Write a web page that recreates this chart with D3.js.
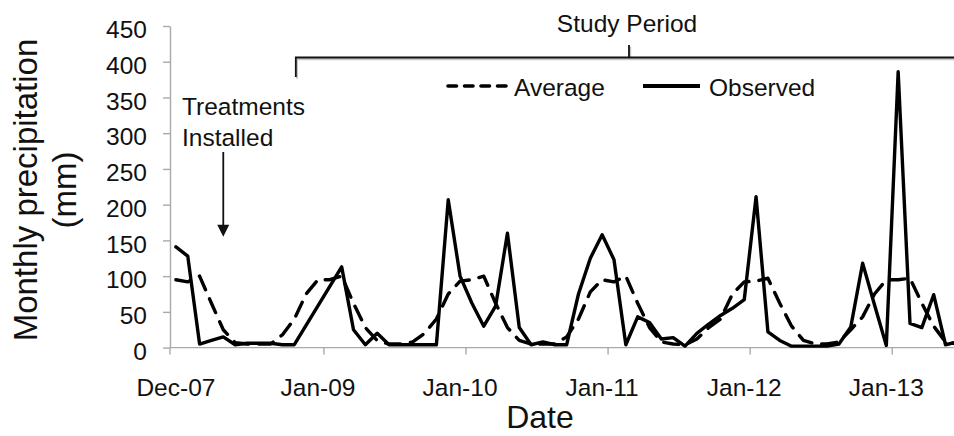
<!DOCTYPE html>
<html>
<head>
<meta charset="utf-8">
<script src="https://cdn.jsdelivr.net/npm/d3@7"></script>
<style>
  html, body { margin: 0; padding: 0; background: #fff; }
  svg { display: block; }
  text { font-family: "Liberation Sans", Arial, Helvetica, sans-serif; fill: #111; }
</style>
</head>
<body>
<svg id="chart" width="954" height="436"></svg>
<script>
// Monthly categories, Dec 2007 – Jun 2013
const months = [
  "Dec-07","Jan-08","Feb-08","Mar-08","Apr-08","May-08","Jun-08","Jul-08","Aug-08","Sep-08","Oct-08","Nov-08",
  "Dec-08","Jan-09","Feb-09","Mar-09","Apr-09","May-09","Jun-09","Jul-09","Aug-09","Sep-09","Oct-09","Nov-09",
  "Dec-09","Jan-10","Feb-10","Mar-10","Apr-10","May-10","Jun-10","Jul-10","Aug-10","Sep-10","Oct-10","Nov-10",
  "Dec-10","Jan-11","Feb-11","Mar-11","Apr-11","May-11","Jun-11","Jul-11","Aug-11","Sep-11","Oct-11","Nov-11",
  "Dec-11","Jan-12","Feb-12","Mar-12","Apr-12","May-12","Jun-12","Jul-12","Aug-12","Sep-12","Oct-12","Nov-12",
  "Dec-12","Jan-13","Feb-13","Mar-13","Apr-13","May-13","Jun-13"
];

// Long-term monthly average precipitation (mm)
const average = [
  95, 92, 100, 62, 25, 7, 5, 5, 5, 18, 40, 75,
  95, 95, 100, 62, 28, 10, 5, 5, 8, 20, 40, 75,
  93, 95, 100, 62, 28, 10, 5, 5, 5, 15, 40, 78,
  95, 92, 100, 62, 28, 8, 5, 4, 12, 28, 40, 75,
  92, 93, 97, 62, 30, 10, 5, 5, 8, 25, 43, 75,
  95, 95, 97, 62, 30, 8, 5
];

// Observed monthly precipitation (mm); null = no record
const observed = [
  141, 128, 5, 10, 15, 4, 6, 6, 6, 4, 4, null,
  null, null, 113, 25, 4, 20, 4, 4, 4, 4, 4, 207,
  100, 62, 30, 58, 160, 28, 4, 8, 4, 4, 75, 125,
  158, 123, 4, 43, 35, 12, 14, 2, 20, 33, 45, 55,
  67, 211, 22, 10, 2, 2, 2, 2, 5, 29, 118, 60,
  3, 386, 34, 28, 74, 4, 8
];

const yTicks = [0, 50, 100, 150, 200, 250, 300, 350, 400, 450];
const xTickMonths  = ["Dec-07", "Jan-09", "Jan-10", "Jan-11", "Jan-12", "Jan-13"];
const xLabelMonths = ["Dec-07", "Dec-08", "Dec-09", "Dec-10", "Dec-11", "Dec-12"];
const xLabelTexts  = ["Dec-07", "Jan-09", "Jan-10", "Jan-11", "Jan-12", "Jan-13"];

const treatmentMonth = "Apr-08";
const studyStartMonth = "Oct-08";

const svg = d3.select("#chart");

const plotLeft = 170, plotTop = 26, plotBottom = 347.6, monthW = 11.84;
const x = d3.scaleBand().domain(months).range([plotLeft, plotLeft + months.length * monthW]).padding(0);
const xc = m => x(m) + x.bandwidth() / 2;
const y = d3.scaleLinear().domain([0, 450]).range([plotBottom, plotTop]);

const axisGrey = "#a9a9a9";

// Y axis
const yAxis = svg.append("g").attr("transform", `translate(${plotLeft},0)`)
  .call(d3.axisLeft(y).tickValues(yTicks).tickSize(7).tickPadding(16).tickSizeOuter(0));
yAxis.attr("font-family", null).attr("font-size", null);
yAxis.select(".domain").attr("stroke", axisGrey).attr("stroke-width", 1.4);
yAxis.selectAll(".tick line").attr("stroke", axisGrey).attr("stroke-width", 1.4);
yAxis.selectAll(".tick text")
  .attr("font-size", 24.5).attr("fill", "#111")
  .attr("dy", "0.48em");

// X axis
const xAxisG = svg.append("g");
xAxisG.append("line")
  .attr("x1", plotLeft).attr("x2", x.range()[1])
  .attr("y1", plotBottom).attr("y2", plotBottom)
  .attr("stroke", axisGrey).attr("stroke-width", 1.4);
xAxisG.selectAll("line.tick").data(xTickMonths).join("line")
  .attr("class", "tick")
  .attr("x1", d => x(d)).attr("x2", d => x(d))
  .attr("y1", plotBottom).attr("y2", plotBottom + 7)
  .attr("stroke", axisGrey).attr("stroke-width", 1.4);
xAxisG.selectAll("text.tl").data(xLabelMonths).join("text")
  .attr("class", "tl")
  .attr("x", d => xc(d)).attr("y", 396)
  .attr("text-anchor", "middle").attr("font-size", 24.5)
  .text((d, i) => xLabelTexts[i]);

// Axis titles
svg.append("text")
  .attr("x", 540).attr("y", 428)
  .attr("text-anchor", "middle").attr("font-size", 32)
  .text("Date");
const yTitle = svg.append("text")
  .attr("transform", "translate(37,190) rotate(-90)")
  .attr("text-anchor", "middle").attr("font-size", 33);
yTitle.append("tspan").attr("x", 0).attr("y", 0).text("Monthly precipitation");
yTitle.append("tspan").attr("x", 0).attr("y", 39).text("(mm)");

// Series
const pts = arr => months.map((m, i) => ({ m, v: arr[i] })).filter(d => d.v !== null);
const line = d3.line().x(d => xc(d.m)).y(d => y(d.v));

svg.append("path")
  .datum(pts(average))
  .attr("d", line)
  .attr("fill", "none").attr("stroke", "#000").attr("stroke-width", 3.4)
  .attr("stroke-dasharray", "15,10").attr("stroke-linecap", "round").attr("stroke-linejoin", "round");

svg.append("path")
  .datum(pts(observed))
  .attr("d", line)
  .attr("fill", "none").attr("stroke", "#000").attr("stroke-width", 3.4)
  .attr("stroke-linejoin", "round").attr("stroke-linecap", "round");

// Legend
const lg = svg.append("g");
lg.append("line").attr("x1", 448).attr("x2", 506).attr("y1", 86).attr("y2", 86)
  .attr("stroke", "#000").attr("stroke-width", 3.6)
  .attr("stroke-dasharray", "8.5,8").attr("stroke-linecap", "round");
lg.append("text").attr("x", 514).attr("y", 96).attr("font-size", 24.5).text("Average");
lg.append("line").attr("x1", 643).attr("x2", 700).attr("y1", 86).attr("y2", 86)
  .attr("stroke", "#000").attr("stroke-width", 3.8);
lg.append("text").attr("x", 709).attr("y", 96).attr("font-size", 24.5).text("Observed");

// Study period bracket
const bx0 = xc(studyStartMonth) + 1.5, bTop = 57.5, bMid = 629;
const bracket = d3.path();
bracket.moveTo(bx0, 77); bracket.lineTo(bx0, bTop); bracket.lineTo(960, bTop);
bracket.moveTo(bMid, bTop); bracket.lineTo(bMid, 45);
svg.append("path").attr("d", bracket.toString())
  .attr("transform", "translate(1.2,1.8)")
  .attr("fill", "none").attr("stroke", "#c8c8c8").attr("stroke-width", 2);
svg.append("path").attr("d", bracket.toString())
  .attr("fill", "none").attr("stroke", "#111").attr("stroke-width", 1.8);
svg.append("text")
  .attr("x", 627).attr("y", 32).attr("text-anchor", "middle").attr("font-size", 24.5)
  .text("Study Period");

// Treatment installation note and arrow
const tn = svg.append("text").attr("font-size", 24.5);
tn.append("tspan").attr("x", 182).attr("y", 115).text("Treatments");
tn.append("tspan").attr("x", 182).attr("y", 146).text("Installed");

const ax = xc(treatmentMonth), aTop = 152, aTip = y(155);
svg.append("line").attr("x1", ax).attr("x2", ax).attr("y1", aTop).attr("y2", aTip - 10)
  .attr("stroke", "#111").attr("stroke-width", 1.8);
svg.append("path")
  .attr("d", `M${ax - 6},${aTip - 12} L${ax + 6},${aTip - 12} L${ax},${aTip} Z`)
  .attr("fill", "#111");
</script>
</body>
</html>
